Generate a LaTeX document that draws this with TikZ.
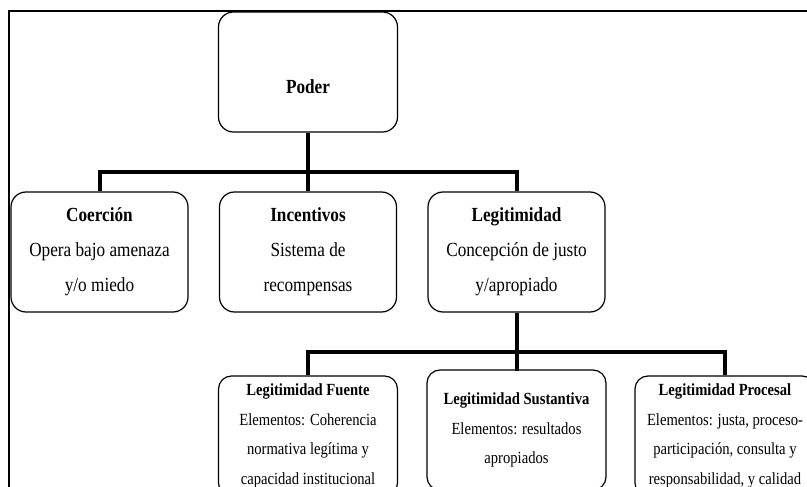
\documentclass[tikz,border=0pt]{standalone}
\usepackage{fontspec}
\setmainfont[FakeStretch=0.86]{Liberation Serif}
\tikzset{
  box/.style={draw, line width=1.2pt, rounded corners=15pt, rectangle, align=center, inner sep=0pt},
  topbox/.style={box, minimum width=177pt, minimum height=120pt, font=\fontsize{20}{35}\selectfont},
  lowbox/.style={box, minimum width=179pt, minimum height=120pt, rounded corners=13pt, font=\fontsize{17}{29.5}\selectfont},
  conn/.style={line width=4pt},
  frame/.style={line width=2.5pt}
}
\begin{document}
\begin{tikzpicture}[x=1pt,y=-1pt]
\useasboundingbox (0,0) rectangle (807,487);
\clip (0,0) rectangle (807,487);
\fill[white] (0,0) rectangle (807,487);
\draw[frame] (9,11) rectangle (840,520);
% level 0
\node[topbox, minimum width=179pt] (poder) at (308,72) {~\\[8pt]\textbf{Poder}};
% level 1
\node[topbox] (coer) at (99.5,252) {\textbf{Coerción}\\Opera bajo amenaza\\y/o miedo};
\node[topbox] (inc) at (308,252) {\textbf{Incentivos}\\Sistema de\\recompensas};
\node[topbox] (leg) at (516.5,252) {\textbf{Legitimidad}\\Concepción de justo\\y/apropiado};
% level 2
\node[lowbox] (fue) at (308,436) {\textbf{Legitimidad Fuente}\\Elementos: Coherencia\\normativa legítima y\\capacidad institucional};
\node[lowbox] (sus) at (516.5,430) {\textbf{Legitimidad Sustantiva}\\Elementos: resultados\\apropiados};
\node[lowbox, minimum width=180pt] (pro) at (725,436) {\textbf{Legitimidad Procesal}\\Elementos: justa, proceso-\\participación, consulta y\\responsabilidad, y calidad};
% connectors
\coordinate (b1) at (308,172);
\coordinate (b2) at (516.5,352);
\draw[conn] (poder.south) -- (inc.north);
\draw[conn] (coer.north) |- (b1) -| (leg.north);
\draw[conn] (leg.south) -- (b2);
\draw[conn] (fue.north) |- (b2) -| (pro.north);
\draw[conn] (b2) -- (sus.north |- 0,371);
\end{tikzpicture}
\end{document}
